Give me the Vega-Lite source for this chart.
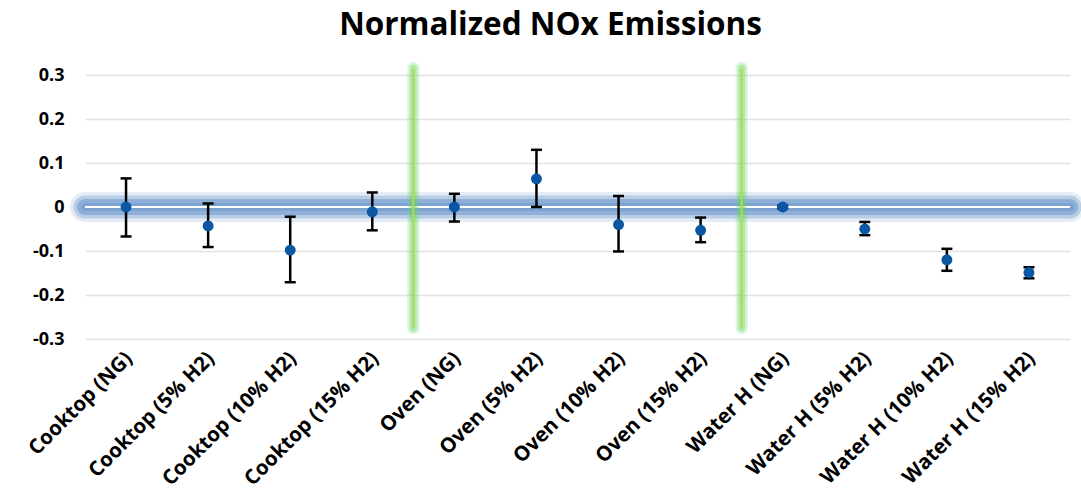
{
  "$schema": "https://vega.github.io/schema/vega-lite/v6.json",
  "width": 985,
  "height": 264,
  "autosize": "none",
  "padding": {"left": 85, "top": 75, "right": 11, "bottom": 156},
  "background": "white",
  "title": {
    "text": "Normalized NOx Emissions",
    "font": "Open Sans",
    "fontSize": 31.5,
    "fontWeight": "bold",
    "color": "#000000",
    "anchor": "middle",
    "dx": -27,
    "offset": 20
  },
  "config": {
    "view": {"stroke": null},
    "font": "Open Sans"
  },
  "data": {
    "values": [
      {"cat": "Cooktop (NG)", "value": 0.0, "lo": -0.067, "hi": 0.065},
      {"cat": "Cooktop (5% H2)", "value": -0.043, "lo": -0.091, "hi": 0.008},
      {"cat": "Cooktop (10% H2)", "value": -0.098, "lo": -0.171, "hi": -0.022},
      {"cat": "Cooktop (15% H2)", "value": -0.011, "lo": -0.053, "hi": 0.033},
      {"cat": "Oven (NG)", "value": 0.0, "lo": -0.033, "hi": 0.030},
      {"cat": "Oven (5% H2)", "value": 0.064, "lo": 0.0, "hi": 0.130},
      {"cat": "Oven (10% H2)", "value": -0.040, "lo": -0.101, "hi": 0.025},
      {"cat": "Oven (15% H2)", "value": -0.053, "lo": -0.080, "hi": -0.024},
      {"cat": "Water H (NG)", "value": 0.0, "lo": -0.003, "hi": 0.003},
      {"cat": "Water H (5% H2)", "value": -0.050, "lo": -0.064, "hi": -0.034},
      {"cat": "Water H (10% H2)", "value": -0.120, "lo": -0.145, "hi": -0.095},
      {"cat": "Water H (15% H2)", "value": -0.149, "lo": -0.162, "hi": -0.137}
    ]
  },
  "layer": [
    {
      "mark": {"type": "point", "opacity": 0},
      "encoding": {
        "x": {
          "field": "cat",
          "type": "nominal",
          "sort": null,
          "scale": {"type": "band", "paddingInner": 0, "paddingOuter": 0},
          "axis": {
            "title": null,
            "labelAngle": -45,
            "labelFont": "Open Sans",
            "labelFontSize": 20.5,
            "labelFontWeight": "bold",
            "labelColor": "#000000",
            "labelPadding": 9,
            "labelOffset": -4,
            "ticks": false,
            "domain": false,
            "grid": false
          }
        },
        "y": {
          "field": "value",
          "type": "quantitative",
          "scale": {"domain": [-0.3, 0.3], "nice": false},
          "axis": {
            "title": null,
            "values": [-0.3, -0.2, -0.1, 0, 0.1, 0.2, 0.3],
            "labelExpr": "datum.value == 0 ? '0' : replace(format(datum.value, '.1f'), '\u2212', '-')",
            "labelFont": "Open Sans",
            "labelFontSize": 18,
            "labelFontWeight": "bold",
            "labelColor": "#000000",
            "labelPadding": 21,
            "ticks": false,
            "tickSize": 0,
            "domain": false,
            "grid": true,
            "gridColor": "#e3e3e3",
            "gridWidth": 1.5
          }
        }
      }
    },
    {
      "data": {"values": [{"v": 0}]},
      "mark": {"type": "rule", "color": "#4a7fbf", "opacity": 0.15, "strokeWidth": 30, "strokeCap": "round"},
      "encoding": {"y": {"field": "v", "type": "quantitative"}}
    },
    {
      "data": {"values": [{"v": 0}]},
      "mark": {"type": "rule", "color": "#4a7fbf", "opacity": 0.28, "strokeWidth": 23, "strokeCap": "round"},
      "encoding": {"y": {"field": "v", "type": "quantitative"}}
    },
    {
      "data": {"values": [{"v": 0}]},
      "mark": {"type": "rule", "color": "#4a7fbf", "opacity": 0.38, "strokeWidth": 16, "strokeCap": "round"},
      "encoding": {"y": {"field": "v", "type": "quantitative"}}
    },
    {
      "data": {"values": [{"v": 0}]},
      "mark": {"type": "rule", "color": "#4a7fbf", "opacity": 0.25, "strokeWidth": 8, "strokeCap": "round"},
      "encoding": {"y": {"field": "v", "type": "quantitative"}}
    },
    {
      "data": {"values": [{"v": 0}]},
      "mark": {"type": "rule", "color": "#ffffff", "strokeWidth": 2},
      "encoding": {"y": {"field": "v", "type": "quantitative"}}
    },
    {
      "data": {"values": [{"cat": "Cooktop (15% H2)"}, {"cat": "Oven (15% H2)"}]},
      "mark": {"type": "rule", "color": "#5fd85f", "opacity": 0.25, "strokeWidth": 12, "strokeCap": "round"},
      "encoding": {
        "x": {"field": "cat", "type": "nominal", "sort": null, "bandPosition": 1},
        "y": {"datum": 0.316},
        "y2": {"datum": -0.275}
      }
    },
    {
      "data": {"values": [{"cat": "Cooktop (15% H2)"}, {"cat": "Oven (15% H2)"}]},
      "mark": {"type": "rule", "color": "#5fd85f", "opacity": 0.35, "strokeWidth": 7, "strokeCap": "round"},
      "encoding": {
        "x": {"field": "cat", "type": "nominal", "sort": null, "bandPosition": 1},
        "y": {"datum": 0.316},
        "y2": {"datum": -0.275}
      }
    },
    {
      "data": {"values": [{"cat": "Cooktop (15% H2)"}, {"cat": "Oven (15% H2)"}]},
      "mark": {"type": "rule", "color": "#b4d84a", "strokeWidth": 2},
      "encoding": {
        "x": {"field": "cat", "type": "nominal", "sort": null, "bandPosition": 1},
        "y": {"datum": 0.316},
        "y2": {"datum": -0.275}
      }
    },
    {
      "mark": {"type": "rule", "color": "#000000", "strokeWidth": 2.5},
      "encoding": {
        "x": {"field": "cat", "type": "nominal", "sort": null},
        "y": {"field": "lo", "type": "quantitative"},
        "y2": {"field": "hi"}
      }
    },
    {
      "mark": {"type": "tick", "color": "#000000", "thickness": 2.5, "size": 11, "opacity": 1},
      "encoding": {
        "x": {"field": "cat", "type": "nominal", "sort": null},
        "y": {"field": "lo", "type": "quantitative"}
      }
    },
    {
      "mark": {"type": "tick", "color": "#000000", "thickness": 2.5, "size": 11, "opacity": 1},
      "encoding": {
        "x": {"field": "cat", "type": "nominal", "sort": null},
        "y": {"field": "hi", "type": "quantitative"}
      }
    },
    {
      "mark": {"type": "circle", "color": "#0b57a4", "opacity": 1, "size": 120},
      "encoding": {
        "x": {"field": "cat", "type": "nominal", "sort": null},
        "y": {"field": "value", "type": "quantitative"}
      }
    }
  ]
}
